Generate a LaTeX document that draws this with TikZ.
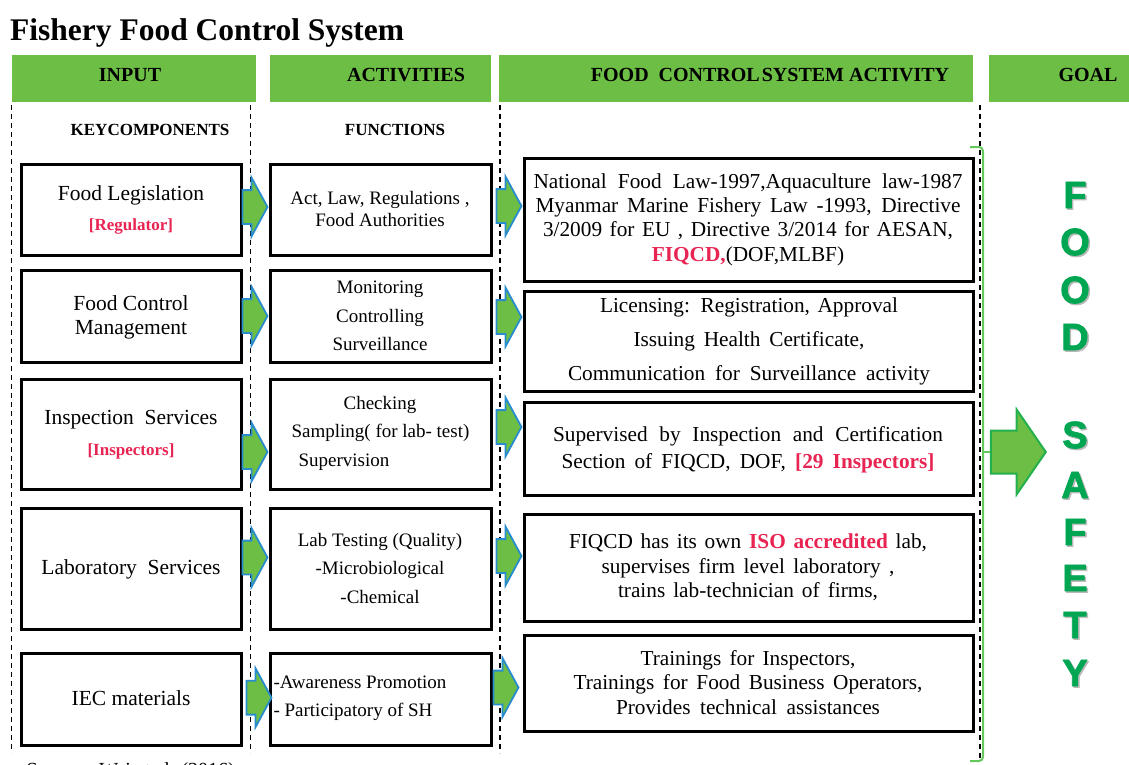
\documentclass[tikz,border=0pt]{standalone}
\usepackage{fontspec}
\setmainfont{Liberation Serif}
\newfontfamily\goalfont[BoldFeatures={FakeBold=2}]{Liberation Sans}
\usetikzlibrary{shapes.arrows}

\definecolor{barGreen}{RGB}{109,190,69}
\definecolor{arrowBlue}{RGB}{40,140,205}
\definecolor{tagRed}{RGB}{232,36,82}
\definecolor{goalGreen}{RGB}{0,166,81}
\definecolor{braceGreen}{RGB}{100,200,90}
\definecolor{goalEdge}{RGB}{34,177,76}

\newcommand{\fsz}[2]{\fontsize{#1}{#2}\selectfont}
\newcommand{\redbf}[1]{\textcolor{tagRed}{\bfseries #1}}
\newcommand{\justline}[2]{\makebox[#1pt][s]{#2}}

\begin{document}
\begin{tikzpicture}[x=1pt, y=-1pt,
    bar/.style={fill=barGreen, inner sep=0pt, minimum height=47pt, anchor=north west},
    barlabel/.style={font=\fsz{20}{24}\bfseries},
    colhead/.style={font=\fsz{17}{20}\bfseries},
    keybox/.style={draw, line width=3pt, inner sep=0pt},
    keytext/.style={font=\fsz{21.5}{24}, align=center},
    tag/.style={font=\fsz{17}{20}\bfseries, text=tagRed},
    acttext/.style={font=\fsz{19}{28.5}, align=center},
    fcstext/.style={font=\fsz{21.3}{24.4}, align=center},
    sepline/.style={line width=1.1pt, dash pattern=on 5pt off 4pt},
    blockarrow/.style={single arrow, draw=arrowBlue, fill=barGreen, line width=1.8pt,
        inner xsep=0pt, inner ysep=16pt, single arrow head extend=12.5pt,
        single arrow tip angle=123, minimum height=25pt, anchor=tip},
    goalarrow/.style={single arrow, draw=goalEdge, fill=barGreen, line width=2pt,
        inner xsep=0pt, inner ysep=20.5pt, single arrow head extend=21pt,
        single arrow tip angle=111, minimum height=55pt, anchor=tip},
    letter/.style={font=\goalfont\bfseries\fsz{38}{38}, inner sep=0pt, text=goalGreen},
]

\useasboundingbox (0,0) rectangle (1129,765);

% ===================== TITLE =====================
\node[font=\fsz{31.5}{36}\bfseries, anchor=base west, inner sep=0pt] (title) at (10,40.7)
    {Fishery Food Control System};

% ===================== HEADER BARS =====================
\node[bar, minimum width=244pt] (hbar1) at (12,55) {};
\node[bar, minimum width=221pt] (hbar2) at (270,55) {};
\node[bar, minimum width=474pt] (hbar3) at (499,55) {};
\node[bar, minimum width=140pt] (hbar4) at (989,55) {};

\node[barlabel] (hlab1) at (130,75) {INPUT};
\node[barlabel] (hlab2) at (406,75) {ACTIVITIES};
\node[barlabel] (hlab3) at (770,75) {FOOD\ \ CONTROL\kern2pt SYSTEM ACTIVITY};
\node[barlabel] (hlab4) at (1088,75) {GOAL};

\node[colhead] (keyhead) at (150,130) {KEYCOMPONENTS};
\node[colhead] (funchead) at (395,130) {FUNCTIONS};

% column separators
\foreach \x/\ye in {11.7/753, 250.7/753, 500/753, 980/761}
    \draw[sepline] (\x,105) -- (\x,\ye);

% ===================== BOXES =====================
% key components and functions share the row heights
\foreach \r/\y/\h in {1/209.5/91, 2/316/92, 3/434/110, 4/568.5/121, 5/699/92} {
    \node[keybox, minimum width=220pt, minimum height=\h pt] (in\r) at (131,\y) {};
    \node[keybox, minimum width=221pt, minimum height=\h pt] (act\r) at (380.5,\y) {};
}

% food control system activity boxes
\foreach \r/\y/\h in {1/219.5/123, 2/341/100, 3/448.5/93, 4/567.5/107, 5/683/96}
    \node[keybox, minimum width=449pt, minimum height=\h pt] (fcs\r) at (748.5,\y) {};

% ===================== INPUT TEXT =====================
\node[keytext] (tin1) at (131,195.7) {Food Legislation};
\node[tag] (tag1) at (131,226.7) {[Regulator]};
\node[keytext] (tin2) at (131,317) {Food Control\\Management};
\node[keytext] (tin3) at (131,420) {Inspection\ \ Services};
\node[tag] (tag3) at (131,451) {[Inspectors]};
\node[keytext] (tin4) at (131,569) {Laboratory\ \ Services};
\node[keytext] (tin5) at (131,698) {IEC materials};

% ===================== FUNCTIONS TEXT =====================
\node[acttext, font=\fsz{19}{22}] (tact1) at (380,209)
    {Act, Law, Regulations ,\\Food Authorities};
\node[acttext] (tact2) at (380,316) {Monitoring\\Controlling\\Surveillance};
\node[acttext] (tact3a) at (380,405) {Checking};
\node[acttext] (tact3b) at (380.5,433) {Sampling( for lab- test)};
\node[acttext, anchor=west] (tact3c) at (295,462) {Supervision};
\node[acttext] (tact4) at (380,568)
    {Lab Testing (Quality)\\-Microbiological\\-Chemical};
\node[acttext, align=left, anchor=west] (tact5) at (270,698.5)
    {-Awareness Promotion\\- Participatory of SH};

% ===================== SYSTEM ACTIVITY TEXT =====================
\node[fcstext] (tfcs1) at (748,219.5) {%
    \justline{429}{National Food Law-1997,Aquaculture law-1987}\\
    \justline{425}{Myanmar Marine Fishery Law -1993, Directive}\\
    \justline{410}{3/2009 for EU , Directive 3/2014 for AESAN,}\\
    \redbf{FIQCD,}(DOF,MLBF)};
\node[fcstext, font=\fsz{21.3}{34}] (tfcs2) at (749,341) {%
    \justline{298}{Licensing: Registration, Approval}\\
    \justline{231}{Issuing Health Certificate,}\\
    \justline{362}{Communication for Surveillance activity}};
\node[fcstext, font=\fsz{21.3}{27}] (tfcs3) at (748,449.5) {%
    \justline{390}{Supervised by Inspection and Certification}\\
    \justline{373}{Section of FIQCD, DOF, \redbf{[29 Inspectors]}}};
\node[fcstext] (tfcs4) at (748,567.5) {%
    \justline{358}{FIQCD has its own \redbf{ISO accredited} lab,}\\
    \justline{293}{supervises firm level laboratory ,}\\
    \justline{260}{trains lab-technician of firms,}};
\node[fcstext] (tfcs5) at (748,682.5) {%
    \justline{215}{Trainings for Inspectors,}\\
    \justline{349}{Trainings for Food Business Operators,}\\
    \justline{264}{Provides technical assistances}};

% ===================== BLOCK ARROWS =====================
\foreach \r/\y/\dx in {1/207/0, 2/316/0, 3/452/0, 4/557.5/0, 5/697.7/4}
    \node[blockarrow, xshift=\dx pt] (arrin\r) at (act\r.west |- 0,\y) {};
\foreach \r/\y/\dx in {1/206/0, 2/317/0, 3/427/0, 4/556/0, 5/687.5/-3}
    \node[blockarrow, xshift=\dx pt] (arract\r) at (fcs\r.west |- 0,\y) {};

% ===================== GOAL =====================
\draw[braceGreen, line width=2pt, rounded corners=4pt]
    (970,147) -| (983,761) -- (970,761);
\coordinate (bracemid) at (983,452);
\node[goalarrow] (goalarrow) at (1047,452) {};
\draw[braceGreen, line width=2pt] (bracemid) -- (goalarrow.tail);

% FOOD SAFETY, one letter per line
\foreach \ch/\y [count=\i] in {F/195, O/242, O/290, D/337, S/435, A/485, F/532, E/578, T/625, Y/673} {
    \node[letter, text=gray!55] (shadow\i) at (1076.5,\y+1.5) {\ch};
    \node[letter] (goal\i) at (1075,\y) {\ch};
}

% source line along the bottom edge
\node[font=\fsz{20}{24}, anchor=north west] (source) at (23,759) {Source : Wai et al. (2016)};

\end{tikzpicture}
\end{document}
